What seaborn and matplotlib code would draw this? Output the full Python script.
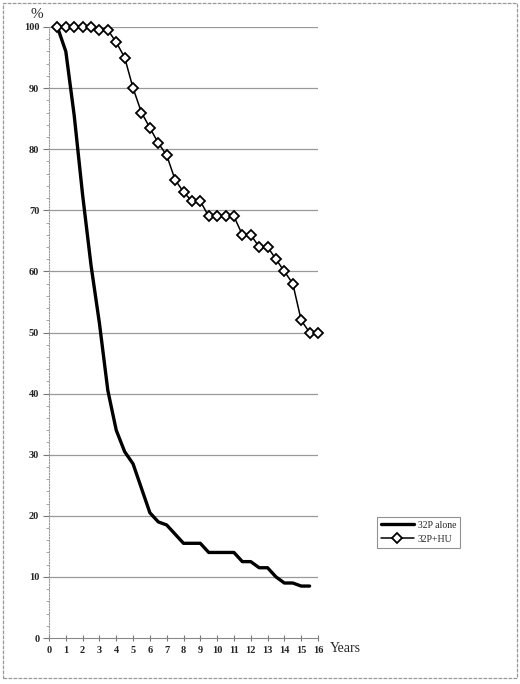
import numpy as np
import pandas as pd
import matplotlib
matplotlib.use("Agg")
import matplotlib.pyplot as plt
import seaborn as sns
from matplotlib.patches import Rectangle

# ---- data ----
years_p32 = [0.5, 1, 1.5, 2, 2.5, 3, 3.5, 4, 4.5, 5, 5.5, 6, 6.5, 7, 7.5, 8, 8.5, 9,
             9.5, 10, 10.5, 11, 11.5, 12, 12.5, 13, 13.5, 14, 14.5, 15, 15.5]
surv_p32 = [100, 96, 85.5, 72.5, 61, 51.5, 40.5, 34, 30.5, 28.5, 24.5, 20.5, 19, 18.5,
            17, 15.5, 15.5, 15.5, 14, 14, 14, 14, 12.5, 12.5, 11.5, 11.5, 10, 9, 9, 8.5, 8.5]

years_hu = [0.5, 1, 1.5, 2, 2.5, 3, 3.5, 4, 4.5, 5, 5.5, 6, 6.5, 7, 7.5, 8, 8.5, 9,
            9.5, 10, 10.5, 11, 11.5, 12, 12.5, 13, 13.5, 14, 14.5, 15, 15.5, 16]
surv_hu = [100, 100, 100, 100, 100, 99.5, 99.5, 97.5, 95, 90, 86, 83.5, 81, 79, 75, 73,
           71.5, 71.5, 69, 69, 69, 69, 66, 66, 64, 64, 62, 60, 58, 52, 50, 50]

series_names = ["32P alone", "32P+HU"]
x_ticks = list(range(0, 17))
y_ticks = list(range(0, 101, 10))

df_a = pd.DataFrame({"year": years_p32, "surv": surv_p32})
df_b = pd.DataFrame({"year": years_hu, "surv": surv_hu})

sns.set_theme(style="white")
plt.rcParams['font.family'] = ['Liberation Serif', 'DejaVu Serif']

fig = plt.figure(figsize=(5.2, 6.84), dpi=100)
ax = fig.add_axes([49/520, 46/684, (318-49)/520, (657-46)/684])

sns.lineplot(data=df_a, x="year", y="surv", ax=ax, color="black", linewidth=2.4,
             label=series_names[0], sort=False, errorbar=None, clip_on=False)
sns.lineplot(data=df_b, x="year", y="surv", ax=ax, color="black", linewidth=1.1,
             marker="D", markersize=5.4, markerfacecolor="white",
             markeredgecolor="black", markeredgewidth=1.3,
             label=series_names[1], sort=False, errorbar=None, clip_on=False)

ax.set_xlim(0, 16)
ax.set_ylim(0, 100)
ax.set_xticks(x_ticks)
ax.set_xticklabels([str(t) for t in x_ticks], fontsize=7.5, fontweight="bold")
ax.set_yticks(y_ticks)
ax.set_yticklabels([str(t) for t in y_ticks], fontsize=7.5, fontweight="bold")
ax.set_yticks(np.arange(0, 101, 2), minor=True)
ax.set_xlabel("")
ax.set_ylabel("")

for v in y_ticks[1:]:
    ax.axhline(v, color="#999999", linewidth=0.9, zorder=0)

ax.tick_params(axis="x", which="major", direction="inout", length=4, width=0.8,
               color="#777777", pad=4, bottom=True)
ax.tick_params(axis="y", which="major", direction="out", length=4, width=0.8,
               color="#777777", pad=3, left=True)
ax.tick_params(axis="y", which="minor", direction="out", length=2, width=0.6,
               color="#999999", left=True)

for s in ["top", "right"]:
    ax.spines[s].set_visible(False)
ax.spines["left"].set_color("#999999")
ax.spines["left"].set_linestyle((0, (1, 1.5)))
ax.spines["left"].set_linewidth(0.8)
ax.spines["bottom"].set_color("#888888")
ax.spines["bottom"].set_linewidth(0.8)

fig.text(37/520, 1 - 14/684, "%", fontsize=11, ha="center", va="center")
fig.text(330/520, 1 - 648/684, "Years", fontsize=10, ha="left", va="center")

leg = ax.legend(loc="upper left", bbox_to_anchor=(377/520, 1 - 517/684),
                bbox_transform=fig.transFigure, fontsize=7, frameon=True,
                fancybox=False, edgecolor="#777777", handlelength=3.4,
                borderpad=0.4, labelspacing=0.5, handletextpad=0.4,
                borderaxespad=0)
leg.get_frame().set_linewidth(0.8)

fig.patches.append(Rectangle((3/520, 6/684), 514/520, 675/684, transform=fig.transFigure,
                             fill=False, edgecolor="#999999", linewidth=0.9,
                             linestyle=(0, (3, 1))))

fig.savefig("out.png", dpi=100)
